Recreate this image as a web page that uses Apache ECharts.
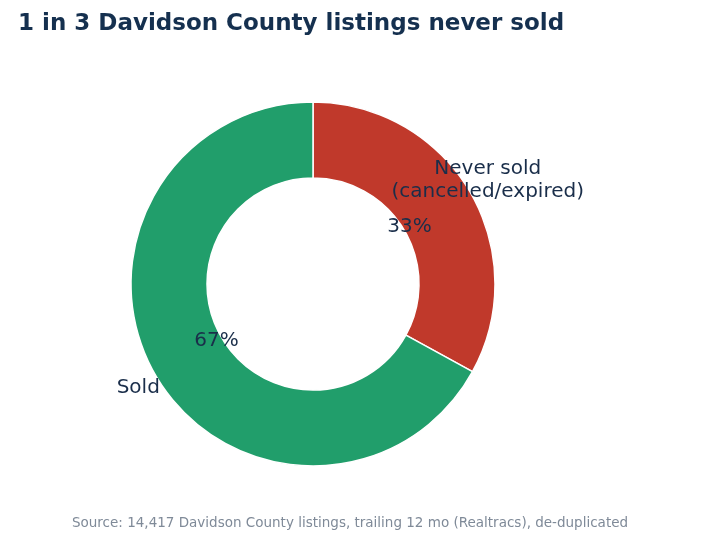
<!DOCTYPE html>
<html>
<head>
<meta charset="utf-8">
<script src="https://cdn.jsdelivr.net/npm/echarts@6/dist/echarts.min.js"></script>
<style>html,body{margin:0;padding:0;background:#fff}#chart{width:707px;height:540px}</style>
</head>
<body>
<div id="chart"></div>
<script>
var categories = ['Never sold\n(cancelled/expired)', 'Sold'];
var shares = [33, 67];
var colors = ['#c0392b', '#219e6b'];
var aligns = ['left', 'right'];

var myChart = echarts.init(document.getElementById('chart'));
var center = [313, 284];

var option = {
	animation: false,
	title: [{
		text: '1 in 3 Davidson County listings never sold',
		left: 13, top: 8,
		textStyle: {color: '#15304f', fontSize: 23, fontWeight: 'bold', fontFamily: 'DejaVu Sans'}
	}, {
		text: 'Source: 14,417 Davidson County listings, trailing 12 mo (Realtracs), de-duplicated',
		left: 345, top: 511, textAlign: 'center',
		textStyle: {color: '#7f8a98', fontSize: 13.5, fontWeight: 'normal', fontFamily: 'DejaVu Sans'}
	}],
	series: [{
		// ring
		type: 'pie',
		center: center,
		radius: [106, 182],
		startAngle: 90,
		silent: true,
		label: {show: false},
		itemStyle: {borderColor: '#fff', borderWidth: 1.5},
		data: shares.map(function(v, i) {
			return {value: v, name: categories[i], itemStyle: {color: colors[i]}};
		})
	}, {
		// percent labels
		type: 'pie',
		center: center,
		radius: [0, 218],
		startAngle: 90,
		silent: true,
		itemStyle: {color: 'transparent'},
		label: {
			show: true, position: 'inside',
			formatter: '{c}%',
			color: '#1a2e4a', fontSize: 20, fontFamily: 'DejaVu Sans'
		},
		data: shares.map(function(v, i) { return {value: v, name: categories[i]}; })
	}, {
		// category labels
		type: 'pie',
		center: center,
		radius: [0, 400],
		startAngle: 90,
		silent: true,
		itemStyle: {color: 'transparent'},
		data: shares.map(function(v, i) {
			return {
				value: v, name: categories[i],
				label: {
					show: true, position: 'inside', formatter: '{b}',
					align: aligns[i], verticalAlign: 'middle',
					color: '#1a2e4a', fontSize: 20, lineHeight: 23, fontFamily: 'DejaVu Sans'
				}
			};
		})
	}]
};
myChart.setOption(option);
</script>
</body>
</html>
